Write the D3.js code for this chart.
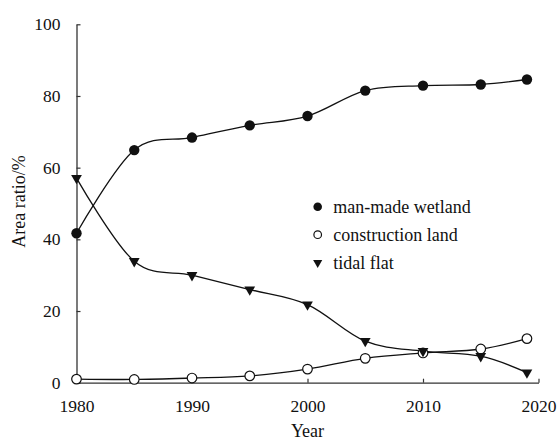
<!DOCTYPE html>
<html>
<head>
<meta charset="utf-8">
<script src="https://cdn.jsdelivr.net/npm/d3@7"></script>
<style>
  html, body { margin: 0; padding: 0; background: #fff; }
  svg text { font-family: "Liberation Serif", "Times New Roman", serif; fill: #111; }
</style>
</head>
<body>
<svg id="chart" width="558" height="441"></svg>
<script>
// Land-use area ratios over time
const years = [1980, 1985, 1990, 1995, 2000, 2005, 2010, 2015, 2019];
const manMadeWetland = [41.7, 64.9, 68.4, 71.8, 74.4, 81.5, 82.9, 83.2, 84.6];
const constructionLand = [1.0, 0.9, 1.3, 1.9, 3.8, 6.8, 8.3, 9.4, 12.3];
const tidalFlat = [57.1, 33.9, 30.0, 26.0, 21.8, 11.6, 8.8, 7.4, 2.8];
const xTicks = [1980, 1990, 2000, 2010, 2020];
const yTicks = [0, 20, 40, 60, 80, 100];
const seriesNames = ["man-made wetland", "construction land", "tidal flat"];

const svg = d3.select("#chart");
const margin = { left: 76.5, right: 19.5, top: 24.3, bottom: 58.3 };
const W = 558, H = 441;

const x = d3.scaleLinear().domain([1980, 2020]).range([margin.left, W - margin.right]);
const y = d3.scaleLinear().domain([0, 100]).range([H - margin.bottom, margin.top]);

// axes with inward ticks
const xAxis = d3.axisBottom(x).tickValues(xTicks).tickFormat(d3.format("d"))
  .tickSizeInner(-4).tickSizeOuter(0).tickPadding(17);
const yAxis = d3.axisLeft(y).tickValues(yTicks)
  .tickSizeInner(-4).tickSizeOuter(0).tickPadding(16);

const gx = svg.append("g").attr("transform", `translate(0,${y(0)})`).call(xAxis);
const gy = svg.append("g").attr("transform", `translate(${x(1980)},0)`).call(yAxis);
[gx, gy].forEach(g => {
  g.select(".domain").attr("stroke", "#333").attr("stroke-width", 1.3);
  g.selectAll(".tick line").attr("stroke", "#333").attr("stroke-width", 1.2);
  g.selectAll("text").attr("font-size", 17.5).attr("fill", "#111");
});

// axis titles
svg.append("text").attr("x", x(2000)).attr("y", 437).attr("text-anchor", "middle")
  .attr("font-size", 18).text("Year");
svg.append("text").attr("transform", `translate(25,${201.5}) rotate(-90)`)
  .attr("text-anchor", "middle").attr("font-size", 18).text("Area ratio/%");

const line = d3.line().x(d => x(d[0])).y(d => y(d[1])).curve(d3.curveCardinal.tension(0));
const tri = d3.symbol().type(d3.symbolTriangle).size(50);

function drawLine(vals) {
  svg.append("path").datum(years.map((yr, i) => [yr, vals[i]]))
    .attr("d", line).attr("fill", "none").attr("stroke", "#111").attr("stroke-width", 1.3);
}
drawLine(manMadeWetland);
drawLine(constructionLand);
drawLine(tidalFlat);

// markers
svg.append("g").selectAll("circle").data(years).join("circle")
  .attr("cx", d => x(d)).attr("cy", (d, i) => y(constructionLand[i])).attr("r", 4.8)
  .attr("fill", "#fff").attr("stroke", "#111").attr("stroke-width", 1.2);
svg.append("g").selectAll("path").data(years).join("path")
  .attr("d", tri).attr("transform", (d, i) => `translate(${x(d)},${y(tidalFlat[i])}) rotate(180)`)
  .attr("fill", "#111");
svg.append("g").selectAll("circle").data(years).join("circle")
  .attr("cx", d => x(d)).attr("cy", (d, i) => y(manMadeWetland[i])).attr("r", 5.2)
  .attr("fill", "#111");

// legend
const lg = svg.append("g");
const lx = 317.7, ly0 = 206.7, dy = 28;
lg.append("circle").attr("cx", lx).attr("cy", ly0).attr("r", 4.3).attr("fill", "#111");
lg.append("circle").attr("cx", lx).attr("cy", ly0 + dy).attr("r", 3.8)
  .attr("fill", "#fff").attr("stroke", "#111").attr("stroke-width", 1.2);
lg.append("path").attr("d", d3.symbol().type(d3.symbolTriangle).size(36))
  .attr("transform", `translate(${lx},${ly0 + 2 * dy}) rotate(180)`).attr("fill", "#111");
seriesNames.forEach((n, i) => {
  lg.append("text").attr("x", 333.3).attr("y", ly0 + i * dy).attr("dy", "0.35em")
    .attr("font-size", 18).text(n);
});
</script>
</body>
</html>
